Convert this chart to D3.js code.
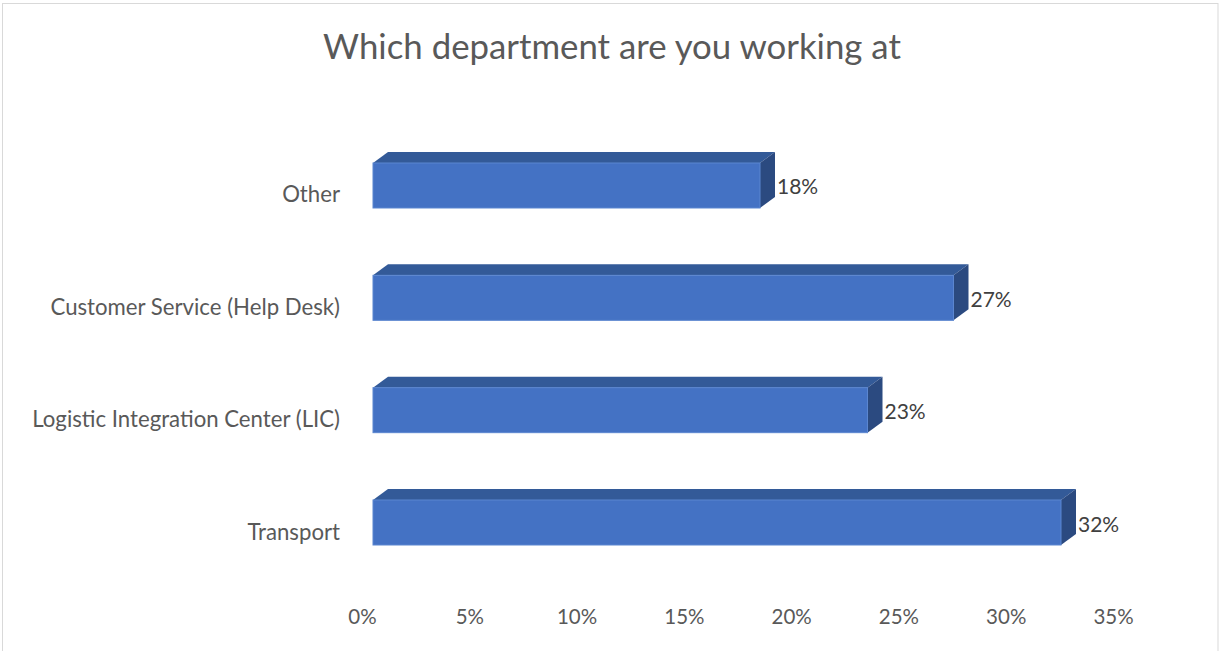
<!DOCTYPE html>
<html>
<head>
<meta charset="utf-8">
<script src="https://cdn.jsdelivr.net/npm/d3@7"></script>
<style>
  body { margin: 0; background: #fff; }
  svg { display: block; font-family: Lato, "Open Sans", sans-serif; }
</style>
</head>
<body>
<div id="chart"></div>
<script>
// Data (top to bottom as drawn)
const categories = ["Other", "Customer Service (Help Desk)", "Logistic Integration Center (LIC)", "Transport"];
const values = [18, 27, 23, 32];
const ticks = [0, 5, 10, 15, 20, 25, 30, 35];
const title = "Which department are you working at";

const W = 1220, H = 651;
const depth = { dx: 15, dy: -11 };

const svg = d3.select("#chart").append("svg")
    .attr("width", W).attr("height", H);

// chart border
svg.append("rect")
    .attr("x", 2.5).attr("y", 3.5)
    .attr("width", 1215.5).attr("height", 660)
    .attr("fill", "none").attr("stroke", "#d9d9d9");

svg.append("text")
    .attr("x", 612).attr("y", 59)
    .attr("text-anchor", "middle")
    .attr("fill", "#595959")
    .style("font-size", "34.8px")
    .text(title);

// scales: bars sit on the front of the 3D floor, labels on the axis
const xBar = d3.scaleLinear().domain([0, 35]).range([373, 373 + 35 * 21.5]);
const xAxis = d3.scaleLinear().domain([0, 35]).range([362, 1113]);
const y = d3.scaleBand().domain(categories)
    .range([129.33, 578.67]).paddingInner(0.5994).paddingOuter(0.2997);

const data = categories.map((c, i) => ({ cat: c, v: values[i] }));

const bars = svg.append("g").selectAll("g")
    .data(data).enter().append("g");

// top face
bars.append("path")
    .attr("fill", "#335a98")
    .attr("d", d => {
        const x0 = xBar(0), x1 = xBar(d.v), t = y(d.cat);
        return `M${x0},${t}L${x0 + depth.dx},${t + depth.dy}L${x1 + depth.dx},${t + depth.dy}L${x1},${t}Z`;
    });

// side face
bars.append("path")
    .attr("fill", "#2b4a80")
    .attr("d", d => {
        const x1 = xBar(d.v), t = y(d.cat), b = t + y.bandwidth();
        return `M${x1},${t}L${x1 + depth.dx},${t + depth.dy}L${x1 + depth.dx},${b + depth.dy}L${x1},${b}Z`;
    });

// front face
bars.append("rect")
    .attr("x", xBar(0))
    .attr("y", d => y(d.cat))
    .attr("width", d => xBar(d.v) - xBar(0))
    .attr("height", y.bandwidth())
    .attr("fill", "#4472c4")
    .attr("stroke", "#5b86d0")
    .attr("stroke-width", 1);

// data labels
bars.append("text")
    .attr("x", d => xBar(d.v) + depth.dx + 2)
    .attr("y", d => y(d.cat) + y.bandwidth() / 2 + 9)
    .attr("fill", "#404040")
    .style("font-size", "21px")
    .text(d => d.v + "%");

// category labels
svg.append("g").selectAll("text")
    .data(categories).enter().append("text")
    .attr("x", 340)
    .attr("y", d => y(d) + y.bandwidth() / 2 + 17)
    .attr("text-anchor", "end")
    .attr("fill", "#595959")
    .style("font-size", "22.2px")
    .text(d => d);

// x axis labels only
const ax = svg.append("g")
    .attr("transform", "translate(0,609)")
    .call(d3.axisBottom(xAxis).tickValues(ticks).tickSize(0).tickPadding(0)
        .tickFormat(d => d + "%"));
ax.select(".domain").remove();
ax.selectAll("text")
    .attr("fill", "#595959")
    .attr("dy", "0.71em")
    .style("font-size", "20.5px")
    .style("font-family", "Lato, 'Open Sans', sans-serif");
</script>
</body>
</html>
